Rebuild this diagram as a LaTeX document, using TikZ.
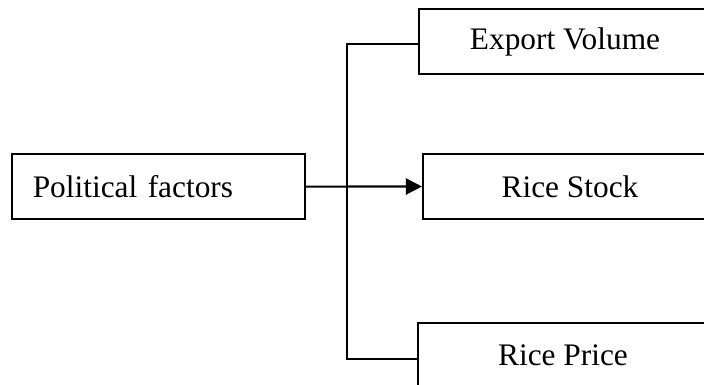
\documentclass[tikz,border=0pt]{standalone}
\usepackage{fontspec}
\setmainfont{Liberation Serif}
\usetikzlibrary{arrows.meta}
\tikzset{factorbox/.style={draw, line width=1.5pt, minimum width=7.3cm, minimum height=1.625cm,
    font=\fontsize{22.3}{27}\selectfont}}
\begin{document}
\begin{tikzpicture}[line width=1.5pt]
\useasboundingbox (0,0) rectangle (17.6,9.625);
% left box, text set to the left
\node [factorbox, minimum width=7.325cm, inner xsep=0.52cm, text width=6.28cm, align=left] (political) at (3.96,4.96) {Political factors};
\node [factorbox] (export) at (14.125,8.5875) {Export Volume};
\node [factorbox, minimum width=7.35cm] (stock) at (14.25,4.9625) {Rice Stock};
\node [factorbox, minimum width=7.25cm] (price) at (14.075,0.7375) {Rice Price};
\coordinate (bus) at (8.675,4.96);
\draw ([yshift=-0.07cm]export.west) -- ([yshift=-0.07cm]export.west -| bus) -- ([yshift=-0.08cm]price.west -| bus) -- ([yshift=-0.08cm]price.west);
\draw [-{Triangle[length=0.4cm, width=0.4cm]}] (political.east) -- (stock.west);
\end{tikzpicture}
\end{document}
